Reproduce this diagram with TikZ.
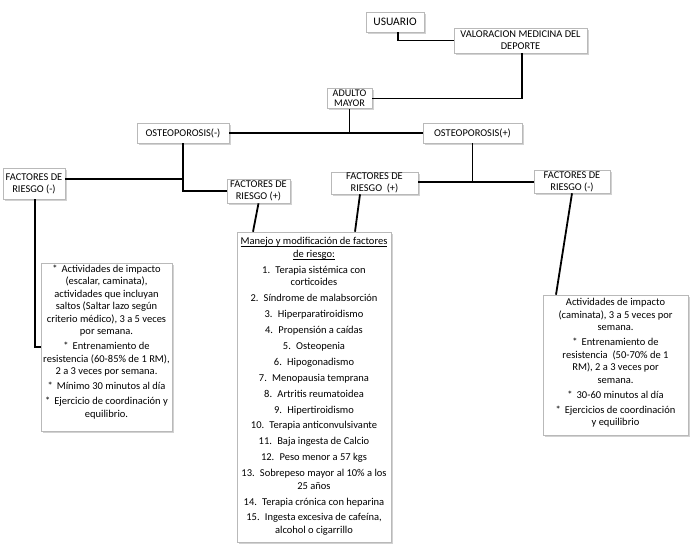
\documentclass[tikz,border=0pt]{standalone}
\usepackage{fontspec}
\setmainfont{Carlito}
\usetikzlibrary{shadows,calc}
\newcommand\myul[1]{\setbox0\hbox{#1}\rlap{\rule[-1.6pt]{\wd0}{0.55pt}}\box0}
\begin{document}
\begin{tikzpicture}[x=1pt,y=-1pt,
  box/.style={draw=gray!55, fill=white, line width=0.6pt,
    drop shadow={shadow xshift=1.6pt, shadow yshift=-1.6pt, fill=gray!70},
    inner sep=0pt, align=center, font=\fontsize{10.4}{12}\selectfont},
  txt/.style={inner sep=0pt, align=center, font=\fontsize{10.5}{12.5}\selectfont},
  conn/.style={line width=1.8pt, black}]
\useasboundingbox (0,0) rectangle (698,554);

% label boxes
\node[box, minimum width=58pt, minimum height=20pt, font=\fontsize{11.5}{13}\selectfont] (usu) at (395,22) {USUARIO};
\node[box, minimum width=133pt, minimum height=25pt] (val) at (520.5,40.5) {VALORACION MEDICINA DEL\\DEPORTE};
\node[box, minimum width=45pt, minimum height=20pt, font=\fontsize{10.2}{10}\selectfont] (adu) at (349.5,98.5) {ADULTO\\MAYOR};
\node[box, minimum width=92pt, minimum height=20pt] (om) at (183,133) {OSTEOPOROSIS(-)};
\node[box, minimum width=99pt, minimum height=20pt] (op) at (472.5,133) {OSTEOPOROSIS(+)};
\node[box, minimum width=62pt, minimum height=31pt] (frl1) at (34,183.5) {FACTORES DE\\RIESGO (-)};
\node[box, minimum width=63pt, minimum height=24pt] (frl2) at (258.5,191) {FACTORES DE\\RIESGO (+)};
\node[box, minimum width=87pt, minimum height=22pt] (frr1) at (374.5,183) {FACTORES DE\\RIESGO\ \ (+)};
\node[box, minimum width=76pt, minimum height=23pt] (frr2) at (572,181.5) {FACTORES DE\\RIESGO (-)};

% text boxes
\node[box, minimum width=131pt, minimum height=168pt] (boxL) at (106.5,347) {};
\node[box, minimum width=154pt, minimum height=310pt] (boxM) at (314,387) {};
\node[box, minimum width=145pt, minimum height=140pt] (boxR) at (615.5,365) {};

\node[txt, anchor=north] (txtL) at (106.5,264.5) {%
*\hspace{4pt}Actividades de impacto\\
(escalar, caminata),\\
actividades que incluyan\\
saltos (Saltar lazo según\\
criterio médico), 3 a 5 veces\\
por semana.\\[2.5pt]
*\hspace{4pt}Entrenamiento de\\
resistencia (60-85\% de 1 RM),\\
2 a 3 veces por semana.\\[2.5pt]
*\hspace{4pt}Mínimo 30 minutos al día\\[2.5pt]
*\hspace{4pt}Ejercicio de coordinación y\\
equilibrio.};

\node[txt, anchor=north] (txtM) at (314,237.5) {%
\myul{Manejo y modificación de factores}\\
\myul{de riesgo:}\\[3.4pt]
1.\enspace Terapia sistémica con\\
corticoides\\[3.4pt]
2.\enspace Síndrome de malabsorción\\[3.4pt]
3.\enspace Hiperparatiroidismo\\[3.4pt]
4.\enspace Propensión a caídas\\[3.4pt]
5.\enspace Osteopenia\\[3.4pt]
6.\enspace Hipogonadismo\\[3.4pt]
7.\enspace Menopausia temprana\\[3.4pt]
8.\enspace Artritis reumatoidea\\[3.4pt]
9.\enspace Hipertiroidismo\\[3.4pt]
10.\enspace Terapia anticonvulsivante\\[3.4pt]
11.\enspace Baja ingesta de Calcio\\[3.4pt]
12.\enspace Peso menor a 57 kgs\\[3.4pt]
13.\enspace Sobrepeso mayor al 10\% a los\\
25 años\\[3.4pt]
14.\enspace Terapia crónica con heparina\\[3.4pt]
15.\enspace Ingesta excesiva de cafeína,\\
alcohol o cigarrillo};

\node[txt, anchor=north] (txtR) at (615.5,298.5) {%
Actividades de impacto\\
(caminata), 3 a 5 veces por\\
semana.\\[2.5pt]
*\hspace{4pt}Entrenamiento de\\
resistencia\ \ (50-70\% de 1\\
RM), 2 a 3 veces por\\
semana.\\[2.5pt]
*\hspace{4pt}30-60 minutos al día\\[2.5pt]
*\hspace{4pt}Ejercicios de coordinación\\
y equilibrio};

% connectors
\draw[conn] ([xshift=3pt]usu.south) |- (val.west);
\draw[conn] ([xshift=1.5pt]val.south) |- (adu.east);
\draw[conn] (om.east) -- (op.west);
\draw[conn] (adu.south) -- (adu.south |- om.east);
\draw[conn] (om.south) |- (frl2.west);
\draw[conn] (om.south |- 0,179) -- (frl1.east |- 0,179);
\draw[conn] (frr1.east |- 0,182) -- (frr2.west |- 0,182);
\draw[conn] (op.south) -- (op.south |- 0,182);
\draw[conn] ([xshift=1pt]frl1.south) |- (boxL.west);
\draw[conn] (frl2.south) -- (boxM.north -| 253,0);
\draw[conn] (frr1.south -| 360,0) -- (boxM.north -| 355,0);
\draw[conn] (frr2.south) -- (boxR.north -| 556,0);
\end{tikzpicture}
\end{document}
